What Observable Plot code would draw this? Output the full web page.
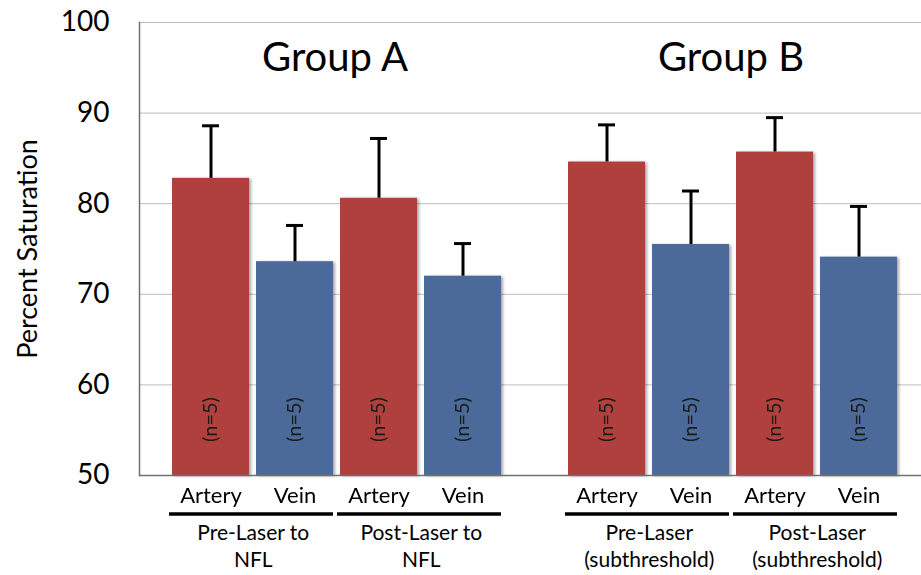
<!DOCTYPE html>
<html>
<head>
<meta charset="utf-8">
<script src="https://cdn.jsdelivr.net/npm/d3@7"></script>
<script src="https://cdn.jsdelivr.net/npm/@observablehq/plot@0.6"></script>
<style>
  html, body { margin: 0; padding: 0; background: #fff; }
  #chart { width: 921px; height: 575px; }
</style>
</head>
<body>
<div id="chart"></div>
<script>
// ---- data ----
const groupNames = ["Group A", "Group B"];
const conditions = ["Pre-Laser to\nNFL", "Post-Laser to\nNFL", "Pre-Laser\n(subthreshold)", "Post-Laser\n(subthreshold)"];
const conditionGroup = ["Group A", "Group A", "Group B", "Group B"];
const vessels = ["Artery", "Vein"];
const means = [82.8, 73.6, 80.6, 72.0, 84.6, 75.5, 85.7, 74.1];
const errors = [5.8, 4.0, 6.6, 3.6, 4.1, 5.9, 3.8, 5.6];
const nLabels = ["(n=5)", "(n=5)", "(n=5)", "(n=5)", "(n=5)", "(n=5)", "(n=5)", "(n=5)"];
const yTicks = [50, 60, 70, 80, 90, 100];
const yTitle = "Percent Saturation";

// ---- tables built from the arrays ----
const slots = ["Artery|1", "Vein|1", "Artery|2", "Vein|2"];
const rows = means.map((m, i) => {
  const c = Math.floor(i / 2);
  return {
    group: conditionGroup[c],
    condition: conditions[c],
    vessel: vessels[i % 2],
    slot: vessels[i % 2] + "|" + (c % 2 + 1),
    mean: m,
    upper: m + errors[i],
    n: nLabels[i]
  };
});
const pairs = conditions.map((c, j) => ({
  group: conditionGroup[j],
  condition: c,
  first: "Artery|" + (j % 2 + 1),
  last: "Vein|" + (j % 2 + 1)
}));

const RED = "#b0413e", BLUE = "#4b6a9a";
const FACET_GAP = 11;

const chart = Plot.plot({
  width: 921,
  height: 575,
  marginLeft: 138,
  marginRight: 0,
  marginTop: 22,
  marginBottom: 100,
  style: {fontFamily: "Lato, 'Open Sans', sans-serif", color: "#000", background: "#fff"},
  fx: {domain: groupNames, paddingInner: 0.0277, paddingOuter: 0, axis: null},
  x: {domain: slots, paddingInner: 0.0888, paddingOuter: 0.3284, align: 0.589},
  y: {domain: [yTicks[0], yTicks[yTicks.length - 1]]},
  color: {domain: vessels, range: [RED, BLUE]},
  marks: [
    // gridlines (each facet's rules bridge the gap to the next facet)
    Plot.ruleY(yTicks.slice(1), {stroke: "#bdbdbd", strokeWidth: 1, insetRight: -FACET_GAP}),
    // bars
    Plot.barY(rows, {fx: "group", x: "slot", y1: yTicks[0], y2: "mean", fill: "vessel"}),
    // error bars
    Plot.ruleX(rows, {fx: "group", x: "slot", y1: "mean", y2: "upper", stroke: "#000", strokeWidth: 3}),
    Plot.tickY(rows, {fx: "group", x: "slot", y: "upper", stroke: "#000", strokeWidth: 3, insetLeft: 30, insetRight: 30}),
    // n labels
    Plot.text(rows, {fx: "group", x: "slot", text: "n", frameAnchor: "bottom", textAnchor: "middle", lineAnchor: "middle", rotate: -90, dy: -56, fontSize: 20, fill: "#1a1a1a"}),
    // frame lines
    Plot.ruleY([yTicks[0]], {stroke: "#707070", strokeWidth: 1.5, insetRight: -FACET_GAP}),
    Plot.frame({anchor: "left", fx: () => groupNames[0], stroke: "#707070", strokeWidth: 1.5}),
    // y axis
    Plot.axisY(yTicks, {tickSize: 0, tickPadding: 30, fontSize: 28, label: null}),
    Plot.text([yTitle], {fx: () => groupNames[0], frameAnchor: "left", textAnchor: "middle", lineAnchor: "middle", rotate: -90, dx: -111, fontSize: 27}),
    // x axis (vessel labels)
    Plot.axisX({tickSize: 0, tickPadding: 12, fontSize: 22, label: null, tickFormat: d => d.split("|")[0]}),
    // underlines & condition labels
    Plot.ruleY(pairs, {fx: "group", x1: "first", x2: "last", y: yTicks[0], dy: 38.5, stroke: "#000", strokeWidth: 3.3, insetLeft: -3}),
    Plot.text(pairs, {fx: "group", x: "first", text: "condition", frameAnchor: "bottom", dx: 42.25, dy: 45, lineAnchor: "top", lineHeight: 1.3, fontSize: 21}),
    // group titles
    Plot.text(groupNames, {fx: d => d, text: d => d, frameAnchor: "top", dx: 3, dy: 20, fontSize: 40})
  ]
});

// subtle drop shadow on bars
const svg = chart.tagName.toLowerCase() === "svg" ? chart : chart.querySelector("svg");
const ns = "http://www.w3.org/2000/svg";
const defs = document.createElementNS(ns, "defs");
defs.innerHTML = '<filter id="barShadow" x="-10%" y="-10%" width="130%" height="130%"><feDropShadow dx="2" dy="1" stdDeviation="1.6" flood-color="#000" flood-opacity="0.35"/></filter>';
svg.insertBefore(defs, svg.firstChild);
svg.querySelectorAll('g[aria-label="bar"]').forEach(g => g.setAttribute("filter", "url(#barShadow)"));

document.getElementById("chart").appendChild(chart);
</script>
</body>
</html>
